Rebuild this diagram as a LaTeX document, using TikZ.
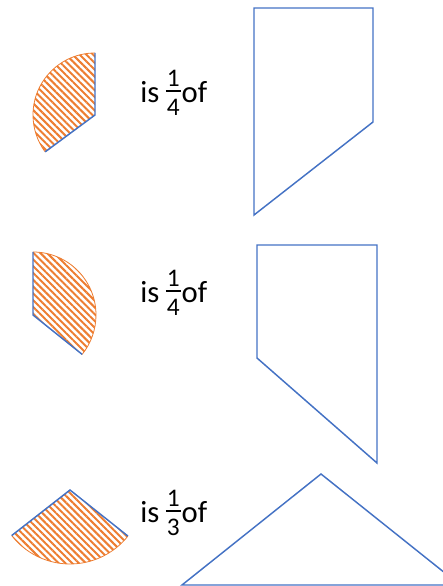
\documentclass[tikz,border=0pt]{standalone}
\usepackage{fontspec}
\setmainfont{Carlito}
\usetikzlibrary{patterns.meta}
\definecolor{cblue}{HTML}{4472C4}
\definecolor{corange}{HTML}{ED7D31}
\tikzset{
  every picture/.style={x=0.75pt, y=0.75pt, font=\fontsize{23}{28}\selectfont},
  outl/.style={cblue, line width=1.1pt, line join=miter},
  hatch/.style={pattern={Lines[angle=-45,distance=3.6pt,line width=1.5pt]}, pattern color=corange},
  rim/.style={corange, line width=0.6pt},
  lbl/.style={anchor=base west, inner sep=0pt},
}
% stacked fraction in the text font
\newcommand{\fr}[2]{%
  \rlap{\raisebox{12.5pt}{\makebox[11pt]{\fontsize{19}{22}\selectfont #1}}}%
  \rlap{\raisebox{8.2pt}{\rule{11pt}{1.5pt}}}%
  \raisebox{-9.3pt}{\makebox[11pt]{\fontsize{19}{22}\selectfont #2}}}
\def\ra{62}
\def\rb{63}
\def\rc{74}

\begin{document}
\begin{tikzpicture}
  \useasboundingbox (0,0) rectangle (443,586);
  \clip (0,0) rectangle (443,586);
  % first row
  \coordinate (c1) at (95,471);
  \fill[hatch] (c1) -- ++(90:\ra) arc (90:216.5:\ra) -- cycle;
  \draw[rim] (c1) ++(90:\ra) arc (90:216.5:\ra);
  \draw[outl] (c1) ++(90:\ra) -- (c1) -- ++(216.5:\ra);
  \node[lbl] (t1) at (140,483) {is\hspace{5pt}\fr{1}{4}\hspace{0.8pt}of};
  \draw[outl] (254,578) -- (373,578) -- (373,464) -- (254,371) -- cycle;
  % second row
  \coordinate (c2) at (33,271);
  \fill[hatch] (c2) -- ++(90:\rb) arc (90:-38.7:\rb) -- cycle;
  \draw[rim] (c2) ++(90:\rb) arc (90:-38.7:\rb);
  \draw[outl] (c2) ++(90:\rb) -- (c2) -- ++(-38.7:\rb);
  \node[lbl] (t2) at (140,283) {is\hspace{5pt}\fr{1}{4}\hspace{0.8pt}of};
  \draw[outl] (257,341) -- (377,341) -- (377,123) -- (257,228) -- cycle;
  % third row
  \coordinate (c3) at (70,96);
  \fill[hatch] (c3) -- ++(218:\rc) arc (218:321.5:\rc) -- cycle;
  \draw[rim] (c3) ++(218:\rc) arc (218:321.5:\rc);
  \draw[outl] (c3) ++(218:\rc) -- (c3) -- ++(321.5:\rc);
  \node[lbl] (t3) at (140,63) {is\hspace{5pt}\fr{1}{3}\hspace{0.8pt}of};
  \draw[outl] (182,1) -- (321,112) -- (460,1) -- cycle;
\end{tikzpicture}
\end{document}
